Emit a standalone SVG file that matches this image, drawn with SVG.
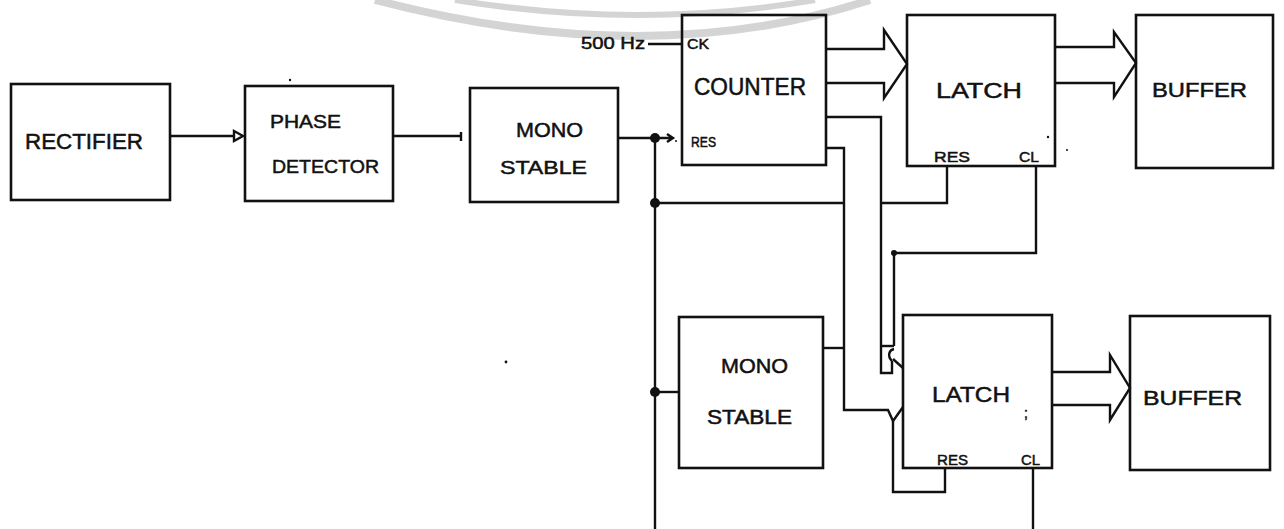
<svg xmlns="http://www.w3.org/2000/svg" width="1284" height="529" viewBox="0 0 1284 529">
<style>
.box{fill:none;stroke:#111;stroke-width:2.6}
.w{fill:none;stroke:#111;stroke-width:2.4;stroke-linejoin:miter}
.t{font-family:"Liberation Sans",Arial,sans-serif;fill:#111;stroke:#111;stroke-width:0.5}
.dot{fill:#111}
.wm{fill:none;stroke:#d4d4d4}
</style>
<rect width="1284" height="529" fill="#fff"/>
<g id="watermark">
<path class="wm" stroke-width="8" d="M375 0 Q650 72 870 0"/>
<path class="wm" stroke-width="6" d="M455 0 Q640 30 815 0"/>
</g>
<g id="rectifier">
<rect class="box" x="11" y="84" width="159" height="116"/>
<text class="t" x="25" y="149" font-size="22" textLength="118" lengthAdjust="spacingAndGlyphs">RECTIFIER</text>
</g>
<g id="phase-detector">
<rect class="box" x="245" y="86" width="148" height="115"/>
<text class="t" x="270" y="128" font-size="18" textLength="71" lengthAdjust="spacingAndGlyphs">PHASE</text>
<text class="t" x="272" y="173" font-size="19" textLength="107" lengthAdjust="spacingAndGlyphs">DETECTOR</text>
</g>
<g id="monostable-1">
<rect class="box" x="470" y="88" width="148" height="114"/>
<text class="t" x="516" y="137" font-size="20" textLength="67" lengthAdjust="spacingAndGlyphs">MONO</text>
<text class="t" x="500" y="174" font-size="19" textLength="87" lengthAdjust="spacingAndGlyphs">STABLE</text>
</g>
<g id="counter">
<rect class="box" x="682" y="15" width="144" height="150"/>
<text class="t" x="687" y="49" font-size="14" textLength="22" lengthAdjust="spacingAndGlyphs">CK</text>
<text class="t" x="694" y="95" font-size="23" textLength="112" lengthAdjust="spacingAndGlyphs">COUNTER</text>
<text class="t" x="691" y="147" font-size="14" textLength="25" lengthAdjust="spacingAndGlyphs">RES</text>
</g>
<g id="latch-1">
<rect class="box" x="907" y="15" width="148" height="151"/>
<text class="t" x="936" y="98" font-size="22" textLength="86" lengthAdjust="spacingAndGlyphs">LATCH</text>
<text class="t" x="934" y="162" font-size="15" textLength="36" lengthAdjust="spacingAndGlyphs">RES</text>
<text class="t" x="1019" y="162" font-size="15" textLength="20" lengthAdjust="spacingAndGlyphs">CL</text>
</g>
<g id="buffer-1">
<rect class="box" x="1136" y="15" width="137" height="153"/>
<text class="t" x="1152" y="97" font-size="21" textLength="95" lengthAdjust="spacingAndGlyphs">BUFFER</text>
</g>
<g id="monostable-2">
<rect class="box" x="679" y="317" width="144" height="151"/>
<text class="t" x="721" y="373" font-size="20" textLength="67" lengthAdjust="spacingAndGlyphs">MONO</text>
<text class="t" x="707" y="424" font-size="20" textLength="85" lengthAdjust="spacingAndGlyphs">STABLE</text>
</g>
<g id="latch-2">
<rect class="box" x="903" y="315" width="149" height="153"/>
<text class="t" x="932" y="402" font-size="22" textLength="78" lengthAdjust="spacingAndGlyphs">LATCH</text>
<text class="t" x="1024" y="418" font-size="14">;</text>
<text class="t" x="937" y="465" font-size="15" textLength="31" lengthAdjust="spacingAndGlyphs">RES</text>
<text class="t" x="1021" y="465" font-size="15" textLength="19" lengthAdjust="spacingAndGlyphs">CL</text>
</g>
<g id="buffer-2">
<rect class="box" x="1130" y="316" width="140" height="154"/>
<text class="t" x="1143" y="405" font-size="21" textLength="99" lengthAdjust="spacingAndGlyphs">BUFFER</text>
</g>
<g id="clock-input">
<text class="t" x="581" y="49" font-size="16" textLength="64" lengthAdjust="spacingAndGlyphs">500 Hz</text>
</g>
<g id="connectors">
<path class="w" d="M170 136 H234"/>
<path class="w" d="M234 131 L243 136 L234 141 Z" stroke-width="2"/>
<path class="w" d="M393 136 H461 M461 132 V141"/>
<path class="w" d="M618 138 H672 M667 134 L673 138 L667 142"/>
<path class="w" d="M648 44 H682" stroke-width="2"/>
<path class="w" d="M826 49 H884 V30 L907 64 L884 98 V83 H826"/>
<path class="w" d="M1055 47 H1114 V32 L1136 63 L1114 97 V83 H1055"/>
<path class="w" d="M1052 372 H1110 V355 L1130 388 L1110 420 V405 H1052"/>
<path class="w" d="M655 138 V529"/>
<path class="w" d="M655 203 H844"/>
<path class="w" d="M655 392 H679"/>
<path class="w" d="M947 166 V203 H881"/>
<path class="w" d="M1036 166 V253 H894 V346"/>
<path class="w" d="M826 117 H881 V373 H892 V361"/>
<path class="w" d="M881 346 H894"/>
<path class="w" d="M892 361 C887 356 889 350 894 349"/>
<path class="w" d="M893 359 L903 368"/>
<path class="w" d="M826 148 H844 V410 H888 L893 421 L898 414 L903 407"/>
<path class="w" d="M823 348 H844"/>
<path class="w" d="M945 468 V492 H893 V421"/>
<path class="w" d="M1033 468 V529"/>
<circle class="dot" cx="655" cy="138" r="5"/>
<circle class="dot" cx="655" cy="203" r="5"/>
<circle class="dot" cx="655" cy="392" r="5"/>
<circle class="dot" cx="894" cy="253" r="3"/>
</g>
<g id="specks">
<circle class="dot" cx="290" cy="80" r="1.2"/>
<circle class="dot" cx="506" cy="362" r="1.4"/>
<circle class="dot" cx="1048" cy="137" r="1.2"/>
<circle class="dot" cx="1067" cy="150" r="1"/>
<circle class="dot" cx="676" cy="141" r="1"/>
</g>
</svg>
